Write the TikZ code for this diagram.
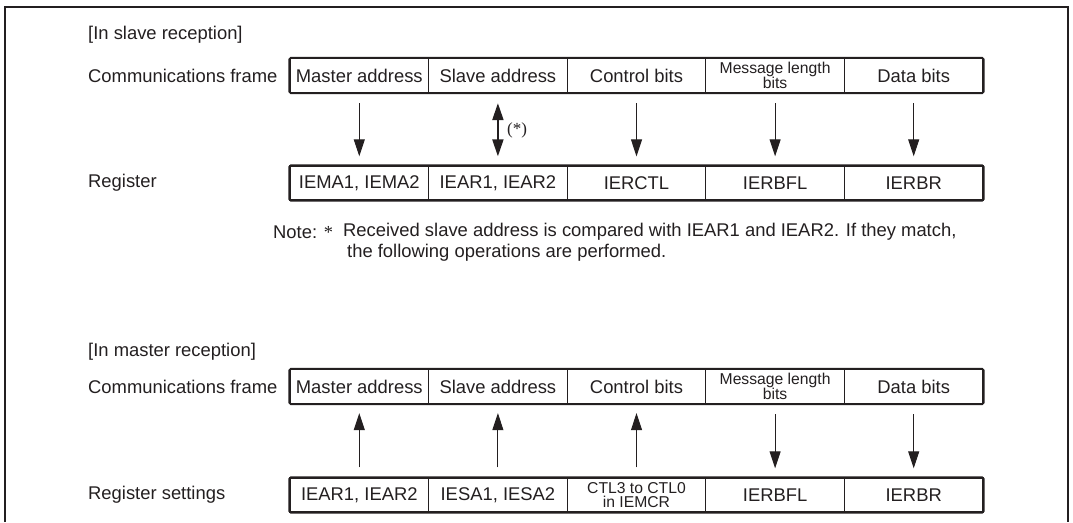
\documentclass[tikz,border=0pt]{standalone}
\usepackage{fontspec}
\setmainfont{Liberation Sans}
\newfontfamily\astfont{Liberation Serif}
\usepackage{tikz}
\usetikzlibrary{arrows.meta}

\begin{document}
\begin{tikzpicture}[x=1pt,y=-1pt,
  cella/.style={draw=inkGray, line width=1.3pt, minimum width=138.6pt, minimum height=34pt,
    inner sep=0pt, text=inkGray, font=\fontsize{18.4}{20}\selectfont},
  cellaPiccola/.style={cella, align=center, font=\fontsize{15.7}{14}\selectfont},
  riga/.style={draw=inkGray, line width=2pt, rounded corners=1.5pt},
  etichetta/.style={anchor=west, inner sep=0pt, text=inkGray, font=\fontsize{18.4}{20}\selectfont},
  freccia/.style={draw=inkGray, line width=1pt, -{Triangle[length=17pt,width=11pt]},
    shorten <=10pt, shorten >=9pt},
  doppia/.style={draw=inkGray, line width=2pt,
    {Triangle[length=17pt,width=11pt]}-{Triangle[length=17pt,width=11pt]},
    shorten <=10pt, shorten >=9pt}]

% Colori
\definecolor{inkGray}{HTML}{231F20}

\useasboundingbox (0,0) rectangle (1073,522);

% Cornice esterna
\draw[inkGray, line width=2pt] (5,522) -- (5,7) -- (1068,7) -- (1068,522);

% Ricezione slave
\node[etichetta] (titSlave) at (88,35) {[In slave reception]};
\node[etichetta] (labFrameS) at (88,75.5) {Communications frame};
\node[etichetta] (labRegS) at (88,183) {Register};

\node[cella] (fsMaster) at (359.3,75.5) {Master address};
\node[cella] (fsSlave) at (497.9,75.5) {Slave address};
\node[cella] (fsCtrl) at (636.5,75.5) {Control bits};
\node[cellaPiccola] (fsLen) at (775.1,75.5) {Message length\\bits};
\node[cella] (fsData) at (913.7,75.5) {Data bits};
\draw[riga] (fsMaster.north west) rectangle (fsData.south east);

\node[cella] (rsMaster) at (359.3,183) {IEMA1, IEMA2};
\node[cella] (rsSlave) at (497.9,183) {IEAR1, IEAR2};
\node[cella] (rsCtrl) at (636.5,183) {IERCTL};
\node[cella] (rsLen) at (775.1,183) {IERBFL};
\node[cella] (rsData) at (913.7,183) {IERBR};
\draw[riga] (rsMaster.north west) rectangle (rsData.south east);

\draw[freccia] (fsMaster) -- (rsMaster);
\draw[doppia] (fsSlave) -- (rsSlave);
\draw[freccia] (fsCtrl) -- (rsCtrl);
\draw[freccia] (fsLen) -- (rsLen);
\draw[freccia] (fsData) -- (rsData);
\node[etichetta, font=\astfont\fontsize{17}{20}\selectfont] (astSlave) at (507,130) {(*)};

% Nota
\node[etichetta] (notaTit) at (273,232) {Note: {\astfont *}};
\node[etichetta] (notaRiga1) at (343,232) {Received slave address is compared with IEAR1 and IEAR2. If they match,};
\node[etichetta] (notaRiga2) at (347,253) {the following operations are performed.};

% Ricezione master
\node[etichetta] (titMaster) at (88,352) {[In master reception]};
\node[etichetta] (labFrameM) at (88,386.5) {Communications frame};
\node[etichetta] (labRegM) at (88,495) {Register settings};

\node[cella] (fmMaster) at (359.3,386.5) {Master address};
\node[cella] (fmSlave) at (497.9,386.5) {Slave address};
\node[cella] (fmCtrl) at (636.5,386.5) {Control bits};
\node[cellaPiccola] (fmLen) at (775.1,386.5) {Message length\\bits};
\node[cella] (fmData) at (913.7,386.5) {Data bits};
\draw[riga] (fmMaster.north west) rectangle (fmData.south east);

\node[cella] (rmMaster) at (359.3,495) {IEAR1, IEAR2};
\node[cella] (rmSlave) at (497.9,495) {IESA1, IESA2};
\node[cellaPiccola] (rmCtrl) at (636.5,495) {CTL3 to CTL0\\in IEMCR};
\node[cella] (rmLen) at (775.1,495) {IERBFL};
\node[cella] (rmData) at (913.7,495) {IERBR};
\draw[riga] (rmMaster.north west) rectangle (rmData.south east);

\draw[freccia] (rmMaster) -- (fmMaster);
\draw[freccia] (rmSlave) -- (fmSlave);
\draw[freccia] (rmCtrl) -- (fmCtrl);
\draw[freccia] (fmLen) -- (rmLen);
\draw[freccia] (fmData) -- (rmData);

\end{tikzpicture}
\end{document}
